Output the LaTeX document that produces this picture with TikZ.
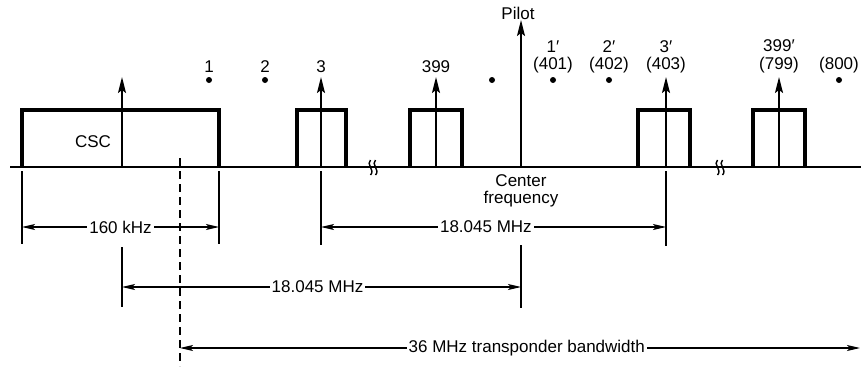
\documentclass[tikz,border=0pt]{standalone}
\usepackage{fontspec}
\setmainfont{Liberation Sans}
\usetikzlibrary{arrows.meta}
\begin{document}
\begin{tikzpicture}[x=1pt,y=-1pt,
  txt/.style={font=\fontsize{17}{19}\selectfont, inner sep=1pt},
  lbl/.style={txt, fill=white, inner sep=2pt},
  box/.style={line width=3.6pt, line join=miter},
  base/.style={line width=1.8pt},
  spec/.style={line width=1.8pt, -{Stealth[length=16pt,width=8pt,inset=3pt]}},
  ext/.style={line width=1.3pt},
  dim/.style={line width=1.1pt, {Stealth[length=13pt,width=6pt,inset=3pt]}-{Stealth[length=13pt,width=6pt,inset=3pt]}},
  dotn/.style={circle, fill=black, inner sep=0pt, minimum size=6pt},
  sq/.style={line width=1.4pt}
]
\useasboundingbox (0,0) rectangle (861,367);
\fill[white] (0,0) rectangle (861,367);

% baseline
\coordinate (bl) at (10,167);
\coordinate (br) at (861,167);
\draw[base] (bl) -- (br);

% channel boxes
\draw[box] (22,167) |- (219,110) -- (219,167);
\draw[box] (297,167) |- (346,110) -- (346,167);
\draw[box] (410,167) |- (462,110) -- (462,167);
\draw[box] (638,167) |- (690,110) -- (690,167);
\draw[box] (753,167) |- (805,110) -- (805,167);

% spectral lines (carriers)
\coordinate (c0) at (122,167); \coordinate (c0t) at (122,77);
\coordinate (c3) at (321,167); \coordinate (c3t) at (321,77);
\coordinate (c399) at (436,167); \coordinate (c399t) at (436,77);
\coordinate (cp) at (521,167); \coordinate (cpt) at (521,20);
\coordinate (c3p) at (666,167); \coordinate (c3pt) at (666,77);
\coordinate (c399p) at (779,167); \coordinate (c399pt) at (779,77);
\foreach \a in {c0,c3,c399,cp,c3p,c399p} \draw[spec] (\a) -- (\a t);

% squiggle breaks
\foreach \x in {373,720} {
  \foreach \d in {-2.5,2.5}
    \draw[sq] ({\x+\d},160) .. controls ({\x+\d-5},164) and ({\x+\d+5},170) .. ({\x+\d},175);
}

% dots
\node[dotn] (d1) at (209,80) {};
\node[dotn] (d2) at (265,80) {};
\node[dotn] (dm) at (492,80) {};
\node[dotn] (d1p) at (553,80) {};
\node[dotn] (d2p) at (609,80) {};
\node[dotn] (d800) at (839,80) {};

% channel labels
\node[txt] (l1) at (209,67) {1};
\node[txt] (l2) at (265,67) {2};
\node[txt] (l3) at (321,67) {3};
\node[txt] (l399) at (436,67) {399};
\node[txt] (l1p) at (553,47) {1′};
\node[txt] (l401) at (553,65) {(401)};
\node[txt] (l2p) at (609,47) {2′};
\node[txt] (l402) at (609,65) {(402)};
\node[txt] (l3p) at (666,47) {3′};
\node[txt] (l403) at (666,65) {(403)};
\node[txt] (l399p) at (779,46) {399′};
\node[txt] (l799) at (779,65) {(799)};
\node[txt] (l800) at (839,65) {(800)};
\node[txt] (pilot) at (518,13) {Pilot};
\node[txt] (csc) at (93,142) {CSC};
\node[txt] (cf1) at (521,181) {Center};
\node[txt] (cf2) at (521,199) {frequency};

% extension lines
\coordinate (e1a) at (22,171);  \coordinate (e1b) at (22,244);
\coordinate (e2a) at (219,171); \coordinate (e2b) at (219,244);
\coordinate (e3a) at (321,171); \coordinate (e3b) at (321,245);
\coordinate (e4a) at (666,171); \coordinate (e4b) at (666,246);
\coordinate (e5a) at (122,247); \coordinate (e5b) at (122,307);
\coordinate (e6a) at (521,245); \coordinate (e6b) at (521,308);
\foreach \e in {1,...,6} \draw[ext] (e\e a) -- (e\e b);
\coordinate (dsa) at (180,158); \coordinate (dsb) at (180,366);
\draw[ext, dash pattern=on 8pt off 5pt] (dsa) -- (dsb);

% dimension lines
\coordinate (k1) at (22,227);  \coordinate (k2) at (219,227);
\coordinate (m1) at (321,227); \coordinate (m2) at (666,227);
\coordinate (n1) at (122,287); \coordinate (n2) at (521,287);
\coordinate (t1) at (180,348); \coordinate (t2) at (860,348);
\draw[dim] (k1) -- node[lbl, pos=0.5] (kl) {160 kHz} (k2);
\draw[dim] (m1) -- node[lbl, pos=0.478] (ml) {18.045 MHz} (m2);
\draw[dim] (n1) -- node[lbl, pos=0.49] (nl) {18.045 MHz} (n2);
\draw[dim] (t1) -- node[lbl, pos=0.51] (tl) {36 MHz transponder bandwidth} (t2);
\end{tikzpicture}
\end{document}
